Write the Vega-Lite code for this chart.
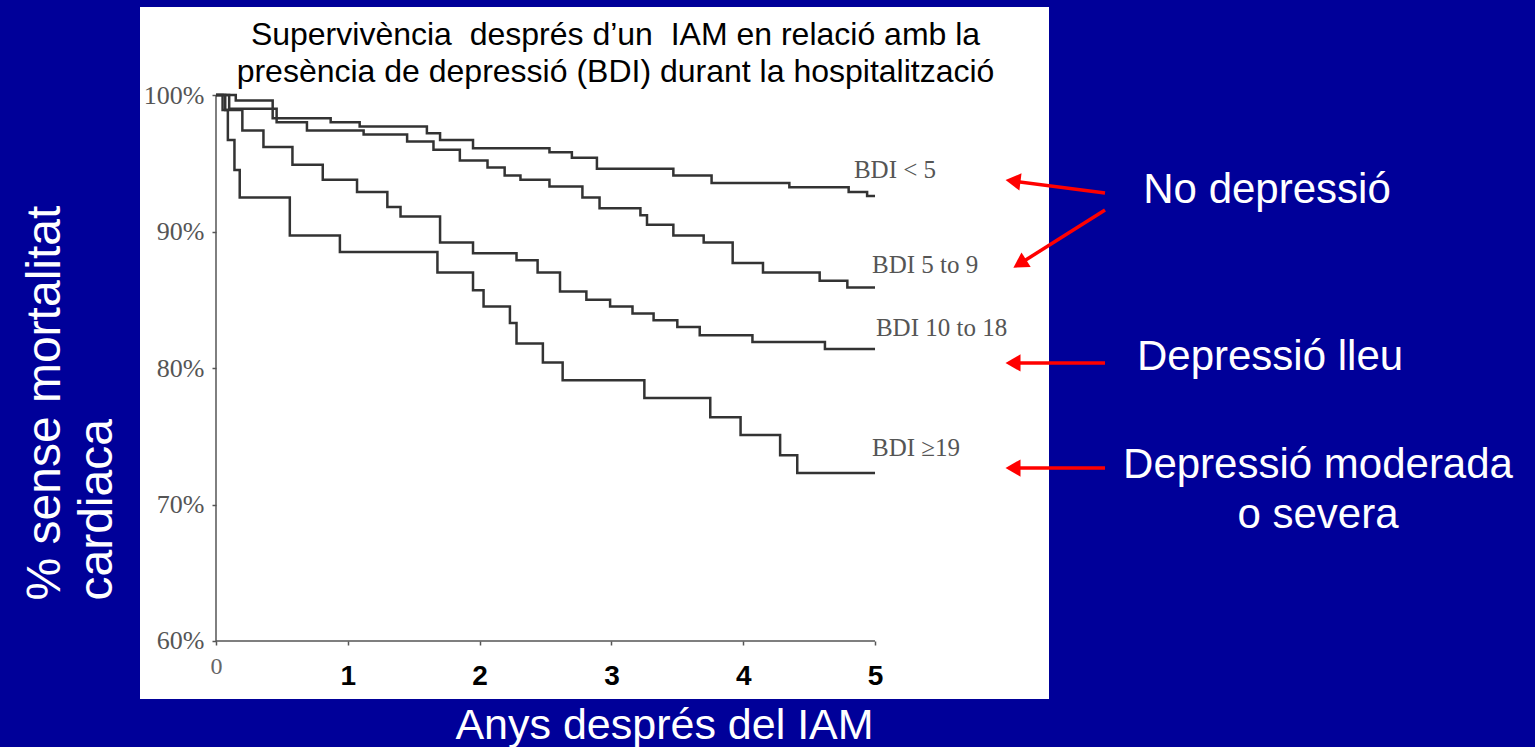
{
  "$schema": "https://vega.github.io/schema/vega-lite/v6.json",
  "width": 909,
  "height": 692,
  "autosize": {"type": "none"},
  "padding": {"left": 140, "top": 7, "right": 486, "bottom": 48},
  "background": "#000099",
  "config": {"view": {"fill": "white", "stroke": null}},
  "title": {
    "text": ["Supervivència\u00a0 després d’un\u00a0 IAM en relació amb la", "presència de depressió (BDI) durant la hospitalització"],
    "font": "Liberation Sans",
    "fontSize": 32,
    "fontWeight": "normal",
    "color": "black",
    "anchor": "middle",
    "frame": "group",
    "offset": -82,
    "baseline": "top",
    "lineHeight": 37,
    "dx": 21
  },
  "datasets": {
    "axislines": [
      {"x": 0, "x2": 0, "y": 60, "y2": 100},
      {"x": 0, "x2": 5, "y": 60, "y2": 60}
    ],
    "curves": [
      {"g": "BDI < 5", "x": 0, "y": 100}, {"g": "BDI < 5", "x": 0.15, "y": 99.6}, {"g": "BDI < 5", "x": 0.43, "y": 98.3}, {"g": "BDI < 5", "x": 0.87, "y": 98.0}, {"g": "BDI < 5", "x": 1.09, "y": 97.7}, {"g": "BDI < 5", "x": 1.60, "y": 97.2}, {"g": "BDI < 5", "x": 1.70, "y": 96.7}, {"g": "BDI < 5", "x": 1.95, "y": 96.1}, {"g": "BDI < 5", "x": 2.53, "y": 95.8}, {"g": "BDI < 5", "x": 2.70, "y": 95.4}, {"g": "BDI < 5", "x": 2.89, "y": 94.6}, {"g": "BDI < 5", "x": 3.47, "y": 94.1}, {"g": "BDI < 5", "x": 3.76, "y": 93.55}, {"g": "BDI < 5", "x": 4.35, "y": 93.25}, {"g": "BDI < 5", "x": 4.80, "y": 92.9}, {"g": "BDI < 5", "x": 4.94, "y": 92.6}, {"g": "BDI < 5", "x": 5.0, "y": 92.6},
      {"g": "BDI 5 to 9", "x": 0, "y": 100}, {"g": "BDI 5 to 9", "x": 0.1, "y": 99.0}, {"g": "BDI 5 to 9", "x": 0.46, "y": 98.0}, {"g": "BDI 5 to 9", "x": 0.69, "y": 97.4}, {"g": "BDI 5 to 9", "x": 1.12, "y": 97.1}, {"g": "BDI 5 to 9", "x": 1.45, "y": 96.6}, {"g": "BDI 5 to 9", "x": 1.65, "y": 96.0}, {"g": "BDI 5 to 9", "x": 1.85, "y": 95.2}, {"g": "BDI 5 to 9", "x": 2.06, "y": 94.7}, {"g": "BDI 5 to 9", "x": 2.19, "y": 94.1}, {"g": "BDI 5 to 9", "x": 2.31, "y": 93.8}, {"g": "BDI 5 to 9", "x": 2.53, "y": 93.3}, {"g": "BDI 5 to 9", "x": 2.78, "y": 92.5}, {"g": "BDI 5 to 9", "x": 2.91, "y": 91.7}, {"g": "BDI 5 to 9", "x": 3.22, "y": 91.2}, {"g": "BDI 5 to 9", "x": 3.27, "y": 90.5}, {"g": "BDI 5 to 9", "x": 3.47, "y": 89.7}, {"g": "BDI 5 to 9", "x": 3.70, "y": 89.2}, {"g": "BDI 5 to 9", "x": 3.92, "y": 87.7}, {"g": "BDI 5 to 9", "x": 4.15, "y": 87.0}, {"g": "BDI 5 to 9", "x": 4.58, "y": 86.4}, {"g": "BDI 5 to 9", "x": 4.79, "y": 85.9}, {"g": "BDI 5 to 9", "x": 5.0, "y": 85.9},
      {"g": "BDI 10 to 18", "x": 0, "y": 100}, {"g": "BDI 10 to 18", "x": 0.07, "y": 98.9}, {"g": "BDI 10 to 18", "x": 0.2, "y": 97.4}, {"g": "BDI 10 to 18", "x": 0.36, "y": 96.2}, {"g": "BDI 10 to 18", "x": 0.58, "y": 94.9}, {"g": "BDI 10 to 18", "x": 0.81, "y": 93.8}, {"g": "BDI 10 to 18", "x": 1.07, "y": 92.9}, {"g": "BDI 10 to 18", "x": 1.30, "y": 91.8}, {"g": "BDI 10 to 18", "x": 1.40, "y": 91.1}, {"g": "BDI 10 to 18", "x": 1.70, "y": 89.2}, {"g": "BDI 10 to 18", "x": 1.95, "y": 88.4}, {"g": "BDI 10 to 18", "x": 2.28, "y": 87.9}, {"g": "BDI 10 to 18", "x": 2.44, "y": 87.0}, {"g": "BDI 10 to 18", "x": 2.61, "y": 85.6}, {"g": "BDI 10 to 18", "x": 2.81, "y": 85.0}, {"g": "BDI 10 to 18", "x": 2.99, "y": 84.5}, {"g": "BDI 10 to 18", "x": 3.16, "y": 84.0}, {"g": "BDI 10 to 18", "x": 3.32, "y": 83.5}, {"g": "BDI 10 to 18", "x": 3.50, "y": 83.0}, {"g": "BDI 10 to 18", "x": 3.67, "y": 82.4}, {"g": "BDI 10 to 18", "x": 4.07, "y": 81.9}, {"g": "BDI 10 to 18", "x": 4.62, "y": 81.4}, {"g": "BDI 10 to 18", "x": 5.0, "y": 81.4},
      {"g": "BDI ≥19", "x": 0, "y": 100}, {"g": "BDI ≥19", "x": 0.05, "y": 98.9}, {"g": "BDI ≥19", "x": 0.09, "y": 96.7}, {"g": "BDI ≥19", "x": 0.14, "y": 94.5}, {"g": "BDI ≥19", "x": 0.18, "y": 92.5}, {"g": "BDI ≥19", "x": 0.56, "y": 89.7}, {"g": "BDI ≥19", "x": 0.94, "y": 88.5}, {"g": "BDI ≥19", "x": 1.68, "y": 87.0}, {"g": "BDI ≥19", "x": 1.95, "y": 85.7}, {"g": "BDI ≥19", "x": 2.03, "y": 84.5}, {"g": "BDI ≥19", "x": 2.23, "y": 83.3}, {"g": "BDI ≥19", "x": 2.28, "y": 81.8}, {"g": "BDI ≥19", "x": 2.48, "y": 80.4}, {"g": "BDI ≥19", "x": 2.63, "y": 79.1}, {"g": "BDI ≥19", "x": 3.25, "y": 77.8}, {"g": "BDI ≥19", "x": 3.75, "y": 76.4}, {"g": "BDI ≥19", "x": 3.98, "y": 75.1}, {"g": "BDI ≥19", "x": 4.28, "y": 73.6}, {"g": "BDI ≥19", "x": 4.41, "y": 72.3}, {"g": "BDI ≥19", "x": 5.0, "y": 72.3}
    ],
    "curvelabels": [
      {"label": "BDI < 5", "x": 4.84, "y": 94.51},
      {"label": "BDI 5 to 9", "x": 4.977, "y": 87.55},
      {"label": "BDI 10 to 18", "x": 5.007, "y": 82.93},
      {"label": "BDI ≥19", "x": 4.977, "y": 74.14}
    ],
    "arrows": [
      {"x": 6.745, "y": 92.82, "x2": 6.047, "y2": 93.70},
      {"x": 6.745, "y": 91.58, "x2": 6.098, "y2": 87.64},
      {"x": 6.745, "y": 80.37, "x2": 6.047, "y2": 80.37},
      {"x": 6.745, "y": 72.67, "x2": 6.047, "y2": 72.67}
    ],
    "heads": [
      {"x": 6.047, "y": 80.37},
      {"x": 6.047, "y": 72.67}
    ],
    "head1": [{"x": 6.047, "y": 93.70}],
    "head2": [{"x": 6.098, "y": 87.64}],
    "notes": [
      {"label": "No depressió", "x": 7.974, "y": 93.04},
      {"label": "Depressió lleu", "x": 7.997, "y": 80.81},
      {"label": "Depressió moderada", "x": 8.361, "y": 72.89},
      {"label": "o severa", "x": 8.361, "y": 69.23}
    ]
  },
  "encoding": {
    "x": {
      "field": "x",
      "type": "quantitative",
      "scale": {"domain": [-0.5766, 6.32], "nice": false, "zero": false},
      "axis": {
        "values": [0, 1, 2, 3, 4, 5],
        "offset": -58,
        "domain": false,
        "grid": false,
        "tickColor": "#555",
        "tickSize": 4,
        "tickWidth": 1.5,
        "labelFlush": false,
        "labelOverlap": false,
        "labelBound": false,
        "labelFont": {"condition": {"test": "datum.value == 0", "value": "Liberation Serif"}, "value": "Liberation Sans"},
        "labelFontWeight": {"condition": {"test": "datum.value == 0", "value": "normal"}, "value": "bold"},
        "labelFontSize": {"condition": {"test": "datum.value == 0", "value": 24}, "value": 28},
        "labelColor": {"condition": {"test": "datum.value == 0", "value": "#666"}, "value": "black"},
        "labelPadding": {"condition": {"test": "datum.value == 0", "value": 9}, "value": 17},
        "title": "Anys després del IAM",
        "titleFont": "Liberation Sans",
        "titleFontSize": 43,
        "titleFontWeight": "normal",
        "titleColor": "white",
        "titleX": 524,
        "titleY": 84,
        "titleAlign": "center",
        "titleBaseline": "middle"
      }
    },
    "y": {
      "field": "y",
      "type": "quantitative",
      "scale": {"domain": [55.75, 106.45], "nice": false, "zero": false},
      "axis": {
        "values": [60, 70, 80, 90, 100],
        "offset": -76,
        "domain": false,
        "grid": false,
        "tickColor": "#555",
        "tickSize": 4,
        "tickWidth": 1.5,
        "labelExpr": "datum.value + '%'",
        "labelFont": "Liberation Serif",
        "labelFontSize": 26,
        "labelColor": "#555",
        "labelPadding": 8,
        "labelOverlap": false,
        "labelFlush": false,
        "labelBound": false,
        "title": ["% sense mortalitat", "cardiaca"],
        "titleFont": "Liberation Sans",
        "titleFontSize": 48,
        "titleFontWeight": "normal",
        "titleColor": "white",
        "titleAngle": 270,
        "titleAlign": "left",
        "titleBaseline": "middle",
        "titleLineHeight": 52,
        "titleX": -171,
        "titleY": 593
      }
    }
  },
  "layer": [
    {
      "data": {"name": "axislines"},
      "mark": {"type": "rule", "color": "#555", "strokeWidth": 1.5},
      "encoding": {"x2": {"field": "x2"}, "y2": {"field": "y2"}}
    },
    {
      "data": {"name": "curves"},
      "mark": {"type": "line", "interpolate": "step-after", "color": "#333", "strokeWidth": 2.5},
      "encoding": {"detail": {"field": "g"}}
    },
    {
      "data": {"name": "curvelabels"},
      "mark": {"type": "text", "align": "left", "baseline": "middle", "font": "Liberation Serif", "fontSize": 25, "color": "#555"},
      "encoding": {"text": {"field": "label"}}
    },
    {
      "data": {"name": "arrows"},
      "mark": {"type": "rule", "color": "#ff0000", "strokeWidth": 3.5},
      "encoding": {"x2": {"field": "x2"}, "y2": {"field": "y2"}}
    },
    {
      "data": {"name": "heads"},
      "mark": {"type": "point", "shape": "triangle-left", "filled": true, "color": "#ff0000", "opacity": 1, "size": 300}
    },
    {
      "data": {"name": "head1"},
      "mark": {"type": "point", "shape": "triangle-left", "filled": true, "color": "#ff0000", "opacity": 1, "size": 300, "angle": 7}
    },
    {
      "data": {"name": "head2"},
      "mark": {"type": "point", "shape": "triangle-left", "filled": true, "color": "#ff0000", "opacity": 1, "size": 300, "angle": 328}
    },
    {
      "data": {"name": "notes"},
      "mark": {"type": "text", "align": "center", "baseline": "middle", "font": "Liberation Sans", "fontSize": 42, "color": "white"},
      "encoding": {"text": {"field": "label"}}
    }
  ]
}
